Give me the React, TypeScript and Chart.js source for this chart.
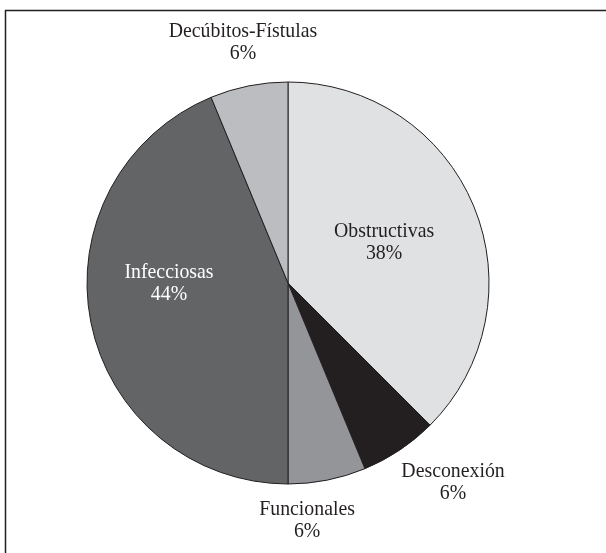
import React, { useEffect, useRef } from "react";
import { Chart, registerables } from "chart.js";

Chart.register(...registerables);

const categories = ["Obstructivas", "Desconexión", "Funcionales", "Infecciosas", "Decúbitos-Fístulas"];
const shares = [37.5, 6.25, 6.25, 43.75, 6.25];
const sliceColors = ["#e0e1e2", "#231f20", "#939598", "#636466", "#bcbdc0"];
const labelColors = ["#231f20", "#231f20", "#231f20", "#ffffff", "#231f20"];
// label anchor offsets, in units of the pie radius, relative to the pie centre
const labelOffsets: [number, number][] = [
  [0.478, -0.204],
  [0.821, 0.99],
  [0.095, 1.179],
  [-0.592, 0.002],
  [-0.224, -1.197],
];

const framePlugin = {
  id: "frame",
  beforeDraw(chart: any) {
    const ctx = chart.ctx;
    ctx.save();
    ctx.fillStyle = "#ffffff";
    ctx.fillRect(0, 0, chart.width, chart.height);
    ctx.strokeStyle = "#231f20";
    ctx.lineWidth = 1.5;
    ctx.beginPath();
    ctx.moveTo(5.5, chart.height);
    ctx.lineTo(5.5, 10.5);
    ctx.lineTo(chart.width, 10.5);
    ctx.stroke();
    ctx.restore();
  },
};

const labelPlugin = {
  id: "sliceLabels",
  afterDatasetsDraw(chart: any) {
    const ctx = chart.ctx;
    const meta = chart.getDatasetMeta(0);
    const total = shares.reduce((a, b) => a + b, 0);
    const sx = 0.9;
    ctx.save();
    ctx.font = "22px 'Liberation Serif', 'Times New Roman', serif";
    ctx.textAlign = "center";
    ctx.textBaseline = "middle";
    meta.data.forEach((arc: any, i: number) => {
      const { x, y, outerRadius } = arc.getProps(["x", "y", "outerRadius"], true);
      const [ox, oy] = labelOffsets[i];
      const cx = x + ox * outerRadius;
      const cy = y + oy * outerRadius;
      const pct = Math.round((shares[i] / total) * 100) + "%";
      ctx.fillStyle = labelColors[i];
      ctx.save();
      ctx.translate(cx, cy);
      ctx.scale(sx, 1);
      ctx.fillText(categories[i], 0, -11);
      ctx.fillText(pct, 0, 11);
      ctx.restore();
    });
    ctx.restore();
  },
};

export default function App() {
  const ref = useRef<HTMLCanvasElement>(null);
  useEffect(() => {
    if (!ref.current) return;
    const chart = new Chart(ref.current, {
      type: "pie",
      data: {
        labels: categories,
        datasets: [
          {
            data: shares,
            backgroundColor: sliceColors,
            borderColor: "#231f20",
            borderWidth: 1,
          },
        ],
      },
      options: {
        responsive: false,
        animation: false,
        devicePixelRatio: 1,
        radius: 201,
        layout: { padding: { left: 0, right: 30, top: 13, bottom: 0 } },
        plugins: {
          legend: { display: false },
          tooltip: { enabled: false },
        },
      } as any,
      plugins: [framePlugin, labelPlugin],
    });
    return () => chart.destroy();
  }, []);
  return (
    <canvas
      ref={ref}
      width={606}
      height={553}
      style={{ position: "absolute", left: 0, top: 0, display: "block" }}
    />
  );
}
